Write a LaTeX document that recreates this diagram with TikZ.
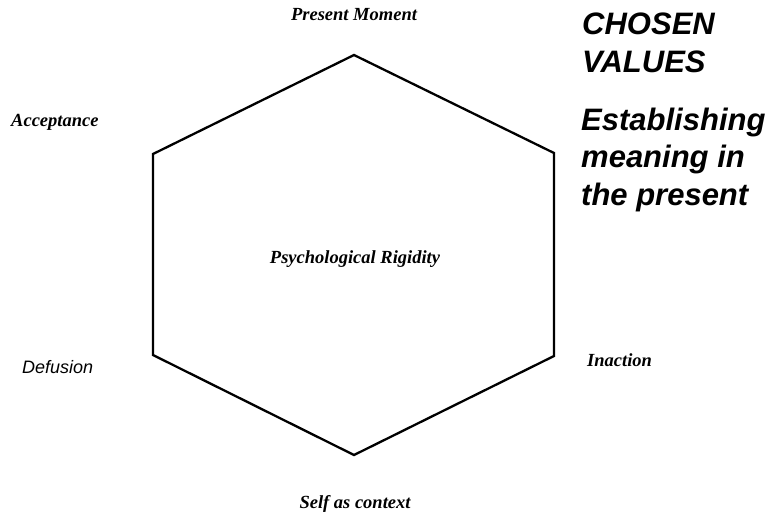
\documentclass[tikz,border=0pt]{standalone}
\usepackage{fontspec}
\setmainfont{Liberation Serif}
\newfontfamily\headfont{Liberation Sans}
\begin{document}
\begin{tikzpicture}[x=1pt,y=-1pt,
  facet/.style={font=\fontsize{18.5}{22}\selectfont\bfseries\itshape, inner sep=0pt},
  sidefacet/.style={font=\headfont\fontsize{18}{22}\selectfont\itshape, inner sep=0pt},
  values/.style={font=\headfont\fontsize{31}{37.5}\selectfont\bfseries\itshape, inner sep=0pt, align=left},
  hexline/.style={line width=2.3pt, line join=miter}]
  \useasboundingbox (0,0) rectangle (777,519);

  % hexagon corners
  \coordinate (t)  at (354,55);
  \coordinate (tr) at (554,153);
  \coordinate (br) at (554,356);
  \coordinate (b)  at (354,455);
  \coordinate (bl) at (153,355);
  \coordinate (tl) at (153,154);
  \draw[hexline] (t) -- (tr) -- (br) -- (b) -- (bl) -- (tl) -- cycle;

  % processes around the hexagon
  \node[facet, anchor=base] (present) at (354,21) {Present Moment};
  \node[facet, anchor=base west] (accept) at (11,126) {Acceptance};
  \node[sidefacet, anchor=base west] (defusion) at (22,373) {Defusion};
  \node[facet, anchor=base west] (inaction) at (587,366) {Inaction};
  \node[facet, anchor=base] (self) at (355,508) {Self as context};
  \node[facet, anchor=base] (rigid) at (355,263) {Psychological Rigidity};

  % values heading (anchored at the baseline of the last line)
  \node[values, anchor=base west, font=\headfont\fontsize{31}{38}\selectfont\bfseries\itshape] (chosen) at (582,73) {CHOSEN\\VALUES};
  \node[values, anchor=base west] (meaning) at (581,205) {Establishing\\meaning in\\the present};
\end{tikzpicture}
\end{document}
